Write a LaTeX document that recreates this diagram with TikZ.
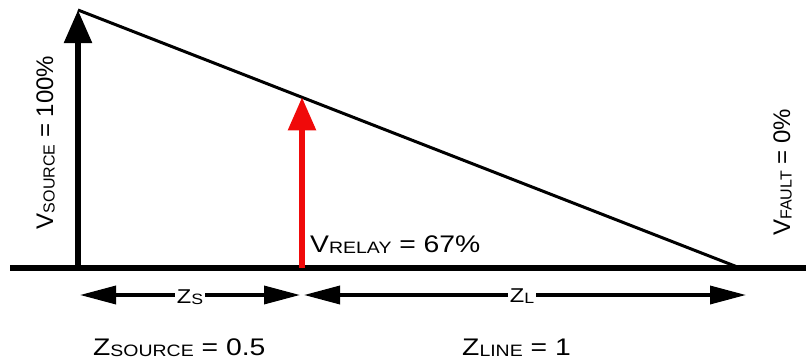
\documentclass[tikz,border=0pt]{standalone}
\usepackage{fontspec}
\setmainfont{Liberation Sans}
\newfontfamily\widefont{Liberation Sans}[FakeStretch=1.18]
\usetikzlibrary{arrows.meta}
\definecolor{relayred}{RGB}{240,10,10}
\newcommand{\lsub}[2][16]{\raisebox{-1.5pt}{\fontsize{#1}{#1}\selectfont #2}}
\begin{document}
\begin{tikzpicture}[x=1pt,y=-1pt,
  lbl/.style={inner sep=0pt, font=\widefont\fontsize{24}{26}\selectfont},
  vlbl/.style={inner sep=0pt, rotate=90, anchor=base, font=\fontsize{24}{26}\selectfont},
  dimlbl/.style={inner xsep=2pt, inner ysep=0pt, fill=white, anchor=base, font=\widefont\fontsize{20}{22}\selectfont},
  bigarrow/.style={line width=5.5pt, -{Triangle[length=33pt,width=27pt]}},
  dimarrow/.style={line width=3.5pt, {Triangle[length=36pt,width=18pt]}-{Triangle[length=36pt,width=18pt]}},
]
\useasboundingbox (0,0) rectangle (806,364);

% key points
\coordinate (bl) at (10,268);
\coordinate (br) at (806,268);
\coordinate (src) at (78,268);
\coordinate (srctop) at (78,10);
\coordinate (rel) at (302,268);
\coordinate (reltop) at (302,97.3);
\coordinate (fault) at (740,268);
\coordinate (dsl) at (80,295);
\coordinate (dsr) at (300,295);
\coordinate (dll) at (304,295);
\coordinate (dlr) at (746,295);

% baseline and voltage profile
\draw[line width=6pt] (bl) -- (br);
\draw[line width=3pt] (srctop) -- (fault);

% voltage arrows
\draw[bigarrow] (src) -- (srctop);
\draw[bigarrow, draw=relayred, fill=relayred] (rel) -- (reltop);

% impedance dimension arrows
\draw[dimarrow] (dsl) -- (dsr);
\draw[dimarrow] (dll) -- (dlr);
\node[dimlbl] (zs) at (190,303) {Z\lsub[15]{S}};
\node[dimlbl] (zl) at (522,302) {Z\lsub[15]{L}};

% labels
\node[vlbl] (vsource) at (53,142.5) {V\lsub{SOURCE} = 100\%};
\node[vlbl] (vfault) at (790,172.5) {V\lsub{FAULT} = 0\%};
\node[lbl, anchor=base west] (vrelay) at (310,252) {V\lsub[16.5]{RELAY} = 67\%};
\node[lbl, anchor=base west] (zsource) at (93,355) {Z\lsub[16.5]{SOURCE} = 0.5};
\node[lbl, anchor=base west] (zline) at (462,355) {Z\lsub[16.5]{LINE} = 1};
\end{tikzpicture}
\end{document}
